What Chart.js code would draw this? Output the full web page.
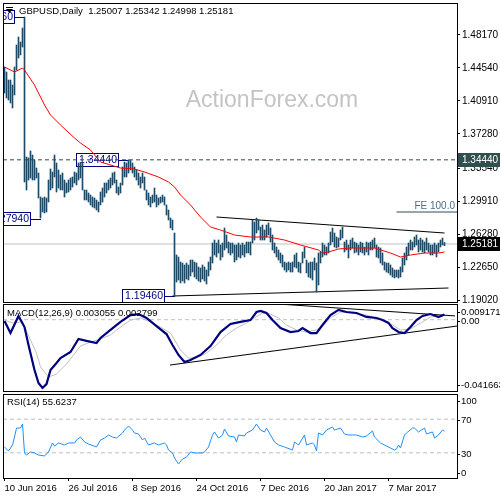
<!DOCTYPE html>
<html>
<head>
<meta charset="utf-8">
<script src="https://cdn.jsdelivr.net/npm/chart.js@4.4.1/dist/chart.umd.min.js"></script>
<style>
body { margin: 0; background: #fff; }
#wrap { position: relative; width: 500px; height: 500px; overflow: hidden; background: #fff; }
canvas { position: absolute; left: 0; }
</style>
</head>
<body>
<div id="wrap">
<canvas id="priceChart" width="500" height="305" style="top:0px"></canvas>
<canvas id="macdChart" width="500" height="90" style="top:303px"></canvas>
<canvas id="rsiChart" width="500" height="108" style="top:392px"></canvas>
</div>
<script>
// daily bars, 10 Jun 2016 .. mid Apr 2017 (bar index = position in array)
const barHigh = [
  1.4465,1.4410,1.4322,1.4322,1.4267,1.4465,1.4707,1.4795,1.4740,1.4894,
  1.5015,1.3475,1.3464,1.3541,1.3497,1.3442,1.3354,1.3299,1.3035,1.3024,
  1.3035,1.3024,1.3222,1.3343,1.3310,1.3497,1.3409,1.3332,1.3277,1.3299,
  1.3222,1.3189,1.3222,1.3244,1.3255,1.3310,1.3299,1.3409,1.3409,1.3409,
  1.3112,1.3112,1.3079,1.3057,1.3035,1.3024,1.3002,1.2980,1.3090,1.3134,
  1.3189,1.3189,1.3222,1.3244,1.3299,1.3310,1.3222,1.3145,1.3189,1.3365,
  1.3420,1.3409,1.3444,1.3438,1.3409,1.3365,1.3332,1.3299,1.3255,1.3299,
  1.3255,1.3112,1.3079,1.3035,1.3057,1.3134,1.3057,1.3024,1.3035,1.3057,
  1.3035,1.2947,1.2892,1.2804,1.2782,1.2639,1.2397,1.2375,1.2320,1.2309,
  1.2287,1.2309,1.2287,1.2342,1.2342,1.2320,1.2309,1.2265,1.2254,1.2287,
  1.2265,1.2232,1.2320,1.2375,1.2529,1.2562,1.2529,1.2562,1.2507,1.2529,
  1.2694,1.2617,1.2540,1.2529,1.2529,1.2507,1.2507,1.2529,1.2507,1.2529,
  1.2507,1.2540,1.2540,1.2540,1.2782,1.2760,1.2804,1.2782,1.2705,1.2727,
  1.2672,1.2727,1.2749,1.2694,1.2617,1.2529,1.2485,1.2452,1.2419,1.2397,
  1.2320,1.2309,1.2320,1.2309,1.2320,1.2397,1.2419,1.2320,1.2309,1.2430,
  1.2485,1.2342,1.2309,1.2320,1.2320,1.2364,1.2309,1.2419,1.2430,1.2529,
  1.2507,1.2485,1.2529,1.2650,1.2694,1.2639,1.2595,1.2584,1.2672,1.2705,
  1.2540,1.2562,1.2507,1.2562,1.2584,1.2540,1.2529,1.2507,1.2540,1.2529,
  1.2485,1.2540,1.2529,1.2540,1.2562,1.2584,1.2507,1.2485,1.2474,1.2419,
  1.2320,1.2309,1.2309,1.2287,1.2254,1.2232,1.2232,1.2232,1.2265,1.2364,
  1.2419,1.2485,1.2529,1.2562,1.2540,1.2595,1.2617,1.2562,1.2584,1.2562,
  1.2540,1.2584,1.2529,1.2507,1.2507,1.2529,1.2507,1.2529,1.2562,1.2584,1.25342
];
const barLow = [
  1.4179,1.4124,1.4102,1.4069,1.4014,1.4157,1.4432,1.4564,1.4597,1.4685,
  1.3200,1.3112,1.3222,1.3244,1.3222,1.3222,1.3244,1.3024,1.2804,1.2870,
  1.2859,1.2870,1.2980,1.3112,1.3134,1.3255,1.3090,1.3134,1.3112,1.3112,
  1.3035,1.3079,1.3090,1.3112,1.3145,1.3189,1.3167,1.3222,1.3244,1.3112,
  1.3002,1.3002,1.2980,1.2947,1.2925,1.2914,1.2892,1.2870,1.2947,1.2980,
  1.3035,1.3079,1.3112,1.3134,1.3167,1.3189,1.3079,1.3057,1.3079,1.3167,
  1.3255,1.3255,1.3299,1.3332,1.3299,1.3255,1.3222,1.3167,1.3134,1.3189,
  1.3112,1.3002,1.2947,1.2925,1.2969,1.2980,1.2925,1.2947,1.2969,1.2980,
  1.2947,1.2837,1.2782,1.2694,1.2672,1.1946,1.2100,1.2122,1.2089,1.2111,
  1.2089,1.2133,1.2122,1.2166,1.2210,1.2155,1.2133,1.2111,1.2100,1.2133,
  1.2111,1.2078,1.2166,1.2232,1.2309,1.2397,1.2375,1.2419,1.2342,1.2375,
  1.2452,1.2474,1.2419,1.2397,1.2419,1.2320,1.2342,1.2375,1.2364,1.2397,
  1.2375,1.2419,1.2419,1.2397,1.2529,1.2562,1.2639,1.2672,1.2562,1.2562,
  1.2562,1.2595,1.2617,1.2540,1.2452,1.2419,1.2375,1.2342,1.2309,1.2265,
  1.2232,1.2210,1.2232,1.2210,1.2210,1.2265,1.2254,1.2210,1.2199,1.2309,
  1.2364,1.2199,1.2155,1.2144,1.2122,1.2232,1.1990,1.2067,1.2309,1.2375,
  1.2397,1.2397,1.2419,1.2507,1.2540,1.2485,1.2474,1.2485,1.2562,1.2584,
  1.2430,1.2452,1.2364,1.2452,1.2474,1.2419,1.2430,1.2397,1.2430,1.2419,
  1.2397,1.2430,1.2397,1.2452,1.2452,1.2474,1.2375,1.2364,1.2309,1.2287,
  1.2232,1.2210,1.2199,1.2177,1.2155,1.2144,1.2155,1.2144,1.2155,1.2210,
  1.2287,1.2342,1.2397,1.2452,1.2452,1.2485,1.2507,1.2430,1.2452,1.2430,
  1.2419,1.2452,1.2430,1.2397,1.2397,1.2419,1.2375,1.2430,1.2485,1.2507,1.24998
];

// red moving average, read at these bar indices
const maIdx = [0,5,9,10,15,20,23,28,35,38,43,48,58,65,70,77,82,85,88,93,98,103,108,115,123,132,140,148,157,159,162,167,173,185,193,198,203,210,217,220];
const maVal = [1.4465,1.4410,1.4454,1.4432,1.4267,1.4047,1.3937,1.3827,1.3684,1.3629,1.3552,1.3420,1.3354,1.3343,1.3310,1.3255,1.3200,1.3145,1.3057,1.2947,1.2815,1.2705,1.2672,1.2617,1.2595,1.2595,1.2562,1.2507,1.2452,1.2419,1.2430,1.2463,1.2474,1.2474,1.2419,1.2375,1.2397,1.2419,1.2419,1.2430];

// MACD(12,26,9) main and signal
const macdIdx = [0,3,7,10,12,15,17,19,21,23,26,28,33,37,41,46,48,53,58,63,67,71,76,81,84,87,90,93,98,103,108,113,118,123,126,128,131,134,138,143,147,149,153,156,159,163,167,171,176,181,186,189,192,194,197,200,203,206,209,213,217,220];
const macdVal = [-0.0008,-0.0078,0.0022,-0.0043,-0.0148,-0.0294,-0.0370,-0.0399,-0.0376,-0.0294,-0.0253,-0.0224,-0.0189,-0.0113,-0.0124,-0.0136,-0.0107,-0.0060,-0.0013,0.0027,0.0033,0.0010,-0.0037,-0.0084,-0.0148,-0.0206,-0.0247,-0.0236,-0.0206,-0.0154,-0.0072,-0.0025,-0.0013,-0.0002,0.0045,0.0051,0.0039,-0.0002,-0.0049,-0.0072,-0.0066,-0.0049,-0.0078,-0.0078,-0.0031,0.0027,0.0057,0.0045,0.0039,0.0016,0.0010,-0.0002,-0.0019,-0.0049,-0.0072,-0.0078,-0.0043,-0.0002,0.0022,0.0033,0.0016,0.0031];
const signalIdx = [0,4,9,13,16,18,22,26,31,38,43,48,53,58,63,68,73,78,83,88,92,96,101,106,111,116,121,124,129,133,137,141,146,151,156,159,163,168,173,181,188,194,198,203,208,213,220];
const signalVal = [-0.0002,-0.0019,-0.0013,-0.0119,-0.0195,-0.0276,-0.0335,-0.0317,-0.0259,-0.0154,-0.0130,-0.0113,-0.0089,-0.0043,-0.0002,0.0010,-0.0013,-0.0043,-0.0078,-0.0177,-0.0224,-0.0224,-0.0195,-0.0148,-0.0089,-0.0049,-0.0019,0.0004,0.0039,0.0033,0.0010,-0.0031,-0.0060,-0.0072,-0.0060,-0.0037,0.0010,0.0045,0.0039,0.0027,0.0004,-0.0031,-0.0060,-0.0054,-0.0019,0.0016,0.0028];

// RSI(14)
const rsiIdx = [0,2,4,5,6,8,9,10,11,13,15,17,20,22,24,25,27,30,32,35,36,38,40,42,46,48,50,52,54,56,59,60,62,64,65,67,69,70,72,75,77,80,81,82,84,85,87,89,91,93,95,99,100,102,104,105,107,109,110,112,115,116,117,120,121,124,126,128,130,131,133,135,137,140,144,145,147,150,151,154,155,156,157,159,161,164,165,168,170,172,174,176,179,181,184,185,188,190,193,195,196,197,198,200,201,204,205,207,210,211,214,215,217,219,220];
const rsiVal = [36.9,32.1,39.3,48.8,59.5,59.5,64.3,29.8,27.4,31.0,29.8,27.4,26.2,31.0,41.7,38.1,41.7,39.3,41.7,41.7,45.2,48.8,42.9,40.5,36.9,45.2,47.6,51.2,48.8,47.6,53.6,57.1,61.9,57.1,53.6,52.4,45.2,47.6,39.3,41.7,39.3,41.7,39.3,33.3,29.8,23.8,16.7,22.6,25.0,31.0,29.8,29.8,31.0,36.9,51.2,54.8,47.6,51.2,58.3,50.0,48.8,42.9,51.2,50.0,53.6,57.1,64.3,57.1,54.8,59.5,51.2,42.9,39.3,36.9,33.3,42.9,39.3,51.2,39.3,41.7,39.3,32.1,53.6,51.2,57.1,60.7,57.1,59.5,52.4,51.2,51.2,51.2,48.8,50.0,56.0,48.8,41.7,39.3,35.7,33.3,34.5,39.3,35.7,51.2,53.6,59.5,59.5,54.8,59.5,52.4,54.8,47.6,51.2,57.1,55.6];

// drawn objects (bar index, value)
const upperTrendIdx = [106, 220], upperTrendVal = [1.2815, 1.2639];
const lowerTrendIdx = [84, 222], lowerTrendVal = [1.1946, 1.2034];
const feIdx = [196, 226.25], feVal = [1.2870, 1.2870];
const macdUpperIdx = [136.75, 225.25], macdUpperVal = [0.00918, 0.0022];
const macdLowerIdx = [82.75, 226.25], macdLowerVal = [-0.0265, -0.0037];
const resistance = 1.3444, lastClose = 1.25181;
const tagIdx = [10, 18, 62, 85];
const tagPrice = [1.5016, 1.2794, 1.3444, 1.1946];
const tagText = ['1.50160', '1.27940', '1.34440', '1.19460'];

// axes
const priceTicks = [1.48170, 1.44540, 1.40910, 1.37280, 1.33540, 1.29910, 1.26280, 1.22650, 1.19020];
const macdTicks = [0.009171, 0, -0.041663], macdTickText = ['0.009171', '0.00', '-0.041663'];
const rsiTicks = [100, 70, 30, 0];
const dateTickIdx = [0, 32, 64, 96, 128, 160, 192];
const dateLabels = ['10 Jun 2016', '26 Jul 2016', '8 Sep 2016', '24 Oct 2016', '7 Dec 2016', '20 Jan 2017', '7 Mar 2017'];

const X_MIN = -0.75, X_MAX = 226.25;
const FONT = '"Liberation Sans", Arial, sans-serif';
Chart.defaults.font.family = FONT;

function pts(xs, ys) {
    return xs.map((x, k) => ({ x: x, y: ys[k] }));
}

function lineSet(data, color, width, dash) {
    return {
        type: 'line', data: data, borderColor: color, borderWidth: width,
        borderDash: dash || [], pointRadius: 0, fill: false, tension: 0
    };
}

function baseOptions(padding) {
    return {
        responsive: false, animation: false, devicePixelRatio: 1,
        layout: { padding: padding },
        plugins: { legend: { display: false }, tooltip: { enabled: false } },
        events: []
    };
}

const framePlugin = {
    id: 'frame',
    afterDraw(chart) {
        const { ctx, chartArea: a } = chart;
        ctx.save();
        ctx.strokeStyle = '#000';
        ctx.lineWidth = 1;
        ctx.strokeRect(a.left + 0.5, a.top + 0.5, a.right - a.left, a.bottom - a.top);
        ctx.restore();
    }
};

function titlePlugin(text, y, arrow) {
    return {
        id: 'title',
        afterDraw(chart) {
            const ctx = chart.ctx;
            ctx.save();
            ctx.fillStyle = '#000';
            ctx.font = '9.5px ' + FONT;
            ctx.textBaseline = 'middle';
            let x = 7;
            if (arrow) {
                ctx.fillRect(6, 7, 7, 1);
                ctx.beginPath();
                ctx.moveTo(6, 9); ctx.lineTo(13, 9); ctx.lineTo(9.5, 13); ctx.closePath();
                ctx.fill();
                x = 19;
            }
            ctx.fillText(text, x, y);
            ctx.restore();
        }
    };
}

// right-hand labels clamped inside the panel, like the terminal does
function sideLabels(values, texts, margin) {
    return {
        id: 'side',
        afterDraw(chart) {
            const { ctx, chartArea: a } = chart;
            const ys = chart.scales.y;
            ctx.save();
            ctx.font = '9.5px ' + FONT;
            ctx.fillStyle = '#000';
            ctx.strokeStyle = '#000';
            ctx.lineWidth = 1;
            ctx.textBaseline = 'middle';
            values.forEach((v, k) => {
                let py = ys.getPixelForValue(v);
                py = Math.round(Math.min(Math.max(py, a.top + margin), a.bottom - margin)) + 1;
                ctx.beginPath();
                ctx.moveTo(a.right, py + 0.5);
                ctx.lineTo(a.right + 3, py + 0.5);
                ctx.stroke();
                ctx.fillText(texts[k], a.right + 4, py);
            });
            ctx.restore();
        }
    };
}

const priceDecor = {
    id: 'priceDecor',
    beforeDatasetsDraw(chart) {
        const { ctx, chartArea: a, scales } = chart;
        ctx.save();
        ctx.font = '23px ' + FONT;
        ctx.fillStyle = '#c4c4c4';
        ctx.textAlign = 'center';
        ctx.textBaseline = 'middle';
        ctx.fillText('ActionForex.com', 272, 101);
        ctx.restore();

        ctx.save();
        ctx.beginPath();
        ctx.rect(a.left, a.top, a.right - a.left, a.bottom - a.top);
        ctx.clip();
        ctx.font = '10.5px ' + FONT;
        ctx.textBaseline = 'middle';
        ctx.textAlign = 'right';
        ctx.lineWidth = 1;
        tagIdx.forEach((ix, k) => {
            const x = Math.round(scales.x.getPixelForValue(ix));
            const y = Math.round(scales.y.getPixelForValue(tagPrice[k]));
            const w = Math.ceil(ctx.measureText(tagText[k]).width) + 5;
            const r = x - 10;
            ctx.strokeStyle = '#000080';
            ctx.beginPath();
            ctx.moveTo(r, y + 0.5);
            ctx.lineTo(x, y + 0.5);
            ctx.stroke();
            ctx.fillStyle = '#fff';
            ctx.fillRect(r - w, y - 7, w, 14);
            ctx.strokeRect(r - w + 0.5, y - 6.5, w - 1, 13);
            ctx.fillStyle = '#000080';
            ctx.fillText(tagText[k], r - 2, y + 0.5);
        });
        ctx.restore();
    },
    afterDatasetsDraw(chart) {
        const { ctx, scales } = chart;
        const y = scales.y.getPixelForValue(feVal[0]);
        ctx.save();
        ctx.font = '10px ' + FONT;
        ctx.fillStyle = '#4a6e8e';
        ctx.textAlign = 'right';
        ctx.textBaseline = 'bottom';
        ctx.fillText('FE 100.0', 455, y - 1);
        ctx.restore();
    },
    afterDraw(chart) {
        const { ctx, chartArea: a, scales } = chart;
        ctx.save();
        ctx.font = '10px ' + FONT;
        ctx.textBaseline = 'middle';
        [[resistance, '1.34440', '#2f4f4f'], [lastClose, '1.25181', '#000']].forEach(m => {
            const y = Math.round(scales.y.getPixelForValue(m[0]));
            ctx.fillStyle = m[2];
            ctx.fillRect(a.right + 1, y - 7, 500 - a.right - 1, 14);
            ctx.fillStyle = '#fff';
            ctx.fillText(m[1], a.right + 5, y + 0.5);
        });
        ctx.restore();
    }
};

const bars = barLow.map((lo, i) => ({ x: i, y: [lo, barHigh[i]] }));

new Chart(document.getElementById('priceChart'), {
    type: 'bar',
    data: {
        datasets: [
            lineSet(pts(maIdx, maVal), '#ff0000', 1),
            { type: 'bar', data: bars, backgroundColor: '#1d4a66', barThickness: 1, grouped: false, borderWidth: 0 },
            lineSet(pts(upperTrendIdx, upperTrendVal), '#000', 1),
            lineSet(pts(lowerTrendIdx, lowerTrendVal), '#000', 1),
            lineSet(pts(feIdx, feVal), '#2f4f4f', 1),
            lineSet(pts([X_MIN, X_MAX], [resistance, resistance]), '#2f4f4f', 1, [4, 3]),
            lineSet(pts([X_MIN, X_MAX], [lastClose, lastClose]), '#c0c0c0', 1)
        ]
    },
    options: Object.assign(baseOptions({ left: 3, top: 3, right: 0, bottom: 3 }), {
        scales: {
            x: { type: 'linear', min: X_MIN, max: X_MAX, offset: false, display: false },
            y: {
                position: 'right', min: 1.1880, max: 1.5169,
                afterBuildTicks: s => { s.ticks = priceTicks.map(v => ({ value: v })); },
                afterFit: s => { s.width = 43; s.paddingTop = 0; s.paddingBottom = 0; },
                grid: { drawOnChartArea: false, color: '#000', tickLength: 3 },
                border: { display: false },
                ticks: { color: '#000', padding: 2, autoSkip: false, font: { size: 10 }, callback: v => v.toFixed(5) }
            }
        }
    }),
    plugins: [priceDecor, framePlugin, titlePlugin('GBPUSD,Daily  1.25007 1.25342 1.24998 1.25181', 11, true)]
});

new Chart(document.getElementById('macdChart'), {
    type: 'line',
    data: {
        datasets: [
            lineSet(pts(macdIdx, macdVal), '#000080', 2.2),
            lineSet(pts(signalIdx, signalVal), '#c0c0c0', 1),
            lineSet(pts(macdUpperIdx, macdUpperVal), '#000', 1),
            lineSet(pts(macdLowerIdx, macdLowerVal), '#000', 1),
            lineSet(pts([X_MIN, X_MAX], [0, 0]), '#c0c0c0', 1, [4, 3])
        ]
    },
    options: Object.assign(baseOptions({ left: 3, top: 1, right: 43, bottom: 2 }), {
        scales: {
            x: { type: 'linear', min: X_MIN, max: X_MAX, display: false },
            y: { min: -0.041663, max: 0.009171, display: false }
        }
    }),
    plugins: [framePlugin, sideLabels(macdTicks, macdTickText, 7), titlePlugin('MACD(12,26,9) 0.003055 0.002799', 10, false)]
});

new Chart(document.getElementById('rsiChart'), {
    type: 'line',
    data: {
        datasets: [
            lineSet(pts(rsiIdx, rsiVal), '#1e90ff', 1),
            lineSet(pts([X_MIN, X_MAX], [70, 70]), '#c0c0c0', 1, [4, 3]),
            lineSet(pts([X_MIN, X_MAX], [30, 30]), '#c0c0c0', 1, [4, 3])
        ]
    },
    options: Object.assign(baseOptions({ left: 3, top: 2, right: 43, bottom: 0 }), {
        scales: {
            x: {
                type: 'linear', min: X_MIN, max: X_MAX, position: 'bottom',
                afterBuildTicks: s => { s.ticks = dateTickIdx.map(v => ({ value: v })); },
                afterFit: s => { s.height = 22; s.paddingLeft = 0; s.paddingRight = 0; },
                grid: { drawOnChartArea: false, color: '#000', tickLength: 3 },
                border: { display: false },
                ticks: {
                    autoSkip: false, maxRotation: 0, minRotation: 0, align: 'start', padding: 2,
                    color: '#000', font: { size: 9.5 }, callback: (v, i) => dateLabels[i]
                }
            },
            y: { min: 0, max: 100, display: false }
        }
    }),
    plugins: [framePlugin, sideLabels(rsiTicks, rsiTicks.map(String), 6), titlePlugin('RSI(14) 55.6237', 10, false)]
});
</script>
</body>
</html>
